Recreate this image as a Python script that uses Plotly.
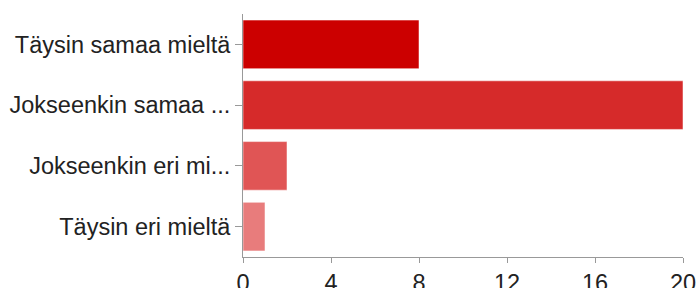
import plotly.graph_objects as go

categories = ["Täysin samaa mieltä", "Jokseenkin samaa ...", "Jokseenkin eri mi...", "Täysin eri mieltä"]
values = [8, 20, 2, 1]
colors = ["#cc0000", "#d62a2a", "#e05555", "#e87c7c"]
x_ticks = [0, 4, 8, 12, 16, 20]

fig = go.Figure(go.Bar(
    y=categories,
    x=values,
    orientation="h",
    marker=dict(color=colors, line=dict(color="rgba(255,255,255,0.5)", width=1)),
))

fig.update_layout(
    width=698, height=288,
    margin=dict(l=243, r=15, t=14, b=31, pad=0),
    paper_bgcolor="white", plot_bgcolor="white",
    font=dict(family="Liberation Sans, Arial, Helvetica, sans-serif", size=23.5, color="#222222"),
    bargap=0.2,
    showlegend=False,
)
fig.update_yaxes(
    autorange="reversed", automargin=False,
    showline=True, linecolor="#999999", linewidth=1,
    ticks="outside", ticklen=7, tickcolor="#999999",
    showgrid=False, zeroline=False,
)
fig.update_xaxes(
    range=[0, 20], automargin=False,
    tickvals=x_ticks,
    showline=True, linecolor="#999999", linewidth=1,
    ticks="outside", ticklen=5, tickcolor="#999999",
    showgrid=False, zeroline=False,
)

fig.write_html(
    "out.html",
    config={"displayModeBar": False},
    post_script="document.body.style.margin='0';document.body.style.overflow='hidden';",
)
